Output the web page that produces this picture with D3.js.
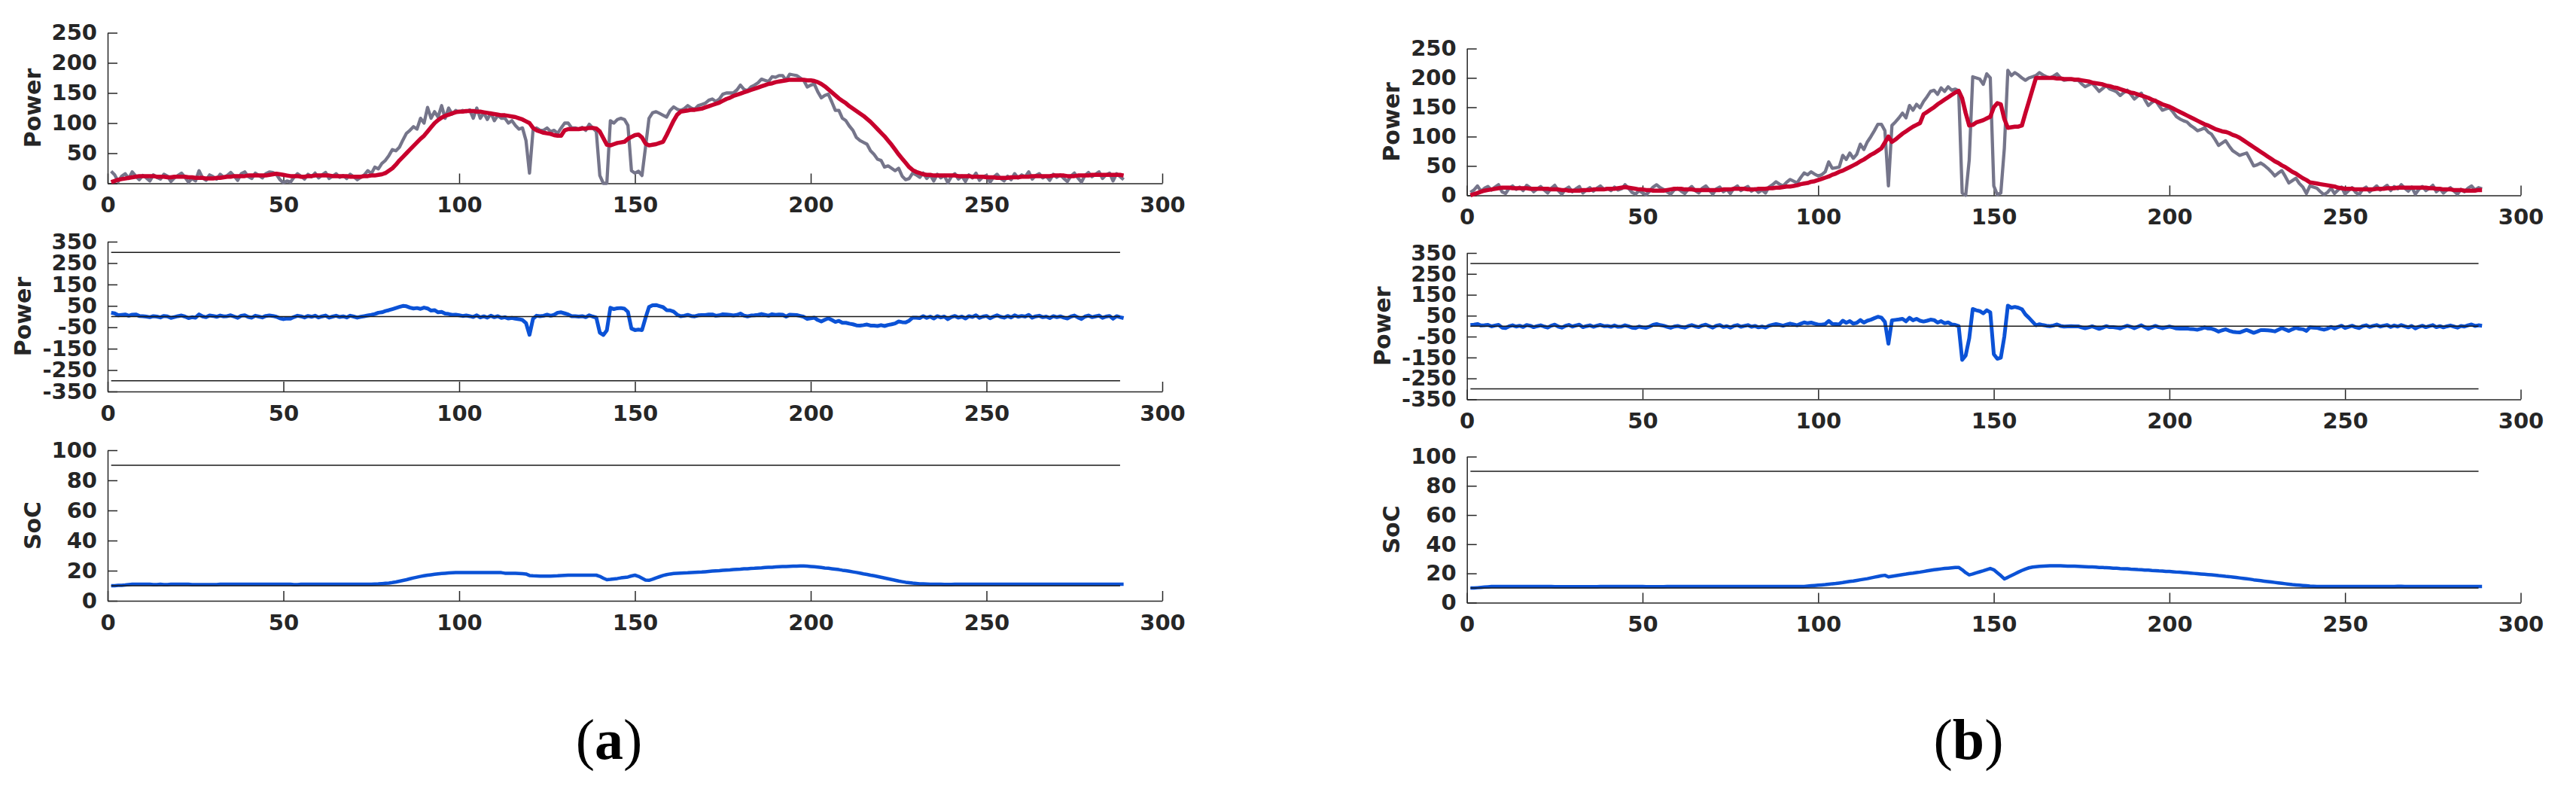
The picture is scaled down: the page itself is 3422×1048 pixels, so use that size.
<!DOCTYPE html>
<meta charset="utf-8" />
<script src="https://d3js.org/d3.v7.min.js"></script>
<style>
	body { margin: 0; background: #fff; }
</style>
<div id="chart"></div>
<script>
	// time steps (5 min slots)
	var steps = d3.range(1, 290);

	// tick labels
	var xTicks = [0, 50, 100, 150, 200, 250, 300];
	var powerTicks = [0, 50, 100, 150, 200, 250];
	var battTicks = [-350, -250, -150, -50, 50, 150, 250, 350];
	var socTicks = [0, 20, 40, 60, 80, 100];
	var battLimits = [-300, 0, 300];
	var socLimits = [10, 90];

	// (a) load power (grey)
	var loadA = [
		20, 14, 3, 12, 16, 8, 19, 12, 6, 13,
		9, 4, 14, 10, 7, 15, 12, 3, 9, 13,
		17, 10, 2, 8, 4, 21, 9, 5, 14, 11,
		7, 15, 10, 13, 18, 12, 5, 16, 19, 11,
		8, 17, 13, 9, 16, 19, 18, 15, 6, 1,
		4, 2, 10, 16, 12, 7, 15, 11, 17, 9,
		14, 18, 8, 12, 16, 10, 13, 8, 15, 11,
		6, 10, 14, 21, 16, 27, 24, 33, 38, 46,
		56, 54, 60, 72, 83, 88, 94, 90, 108, 100,
		126, 108, 119, 110, 129, 108, 125, 115, 121, 118,
		121, 119, 122, 108, 125, 108, 117, 106, 117, 104,
		113, 108, 108, 100, 104, 96, 90, 92, 71, 17,
		88, 92, 88, 88, 92, 86, 88, 83, 92, 100,
		100, 92, 92, 90, 93, 88, 98, 92, 86, 13,
		0, 0, 104, 100, 106, 108, 106, 96, 21, 17,
		20, 13, 60, 108, 117, 119, 116, 113, 110, 121,
		127, 123, 121, 124, 129, 125, 123, 129, 131, 133,
		138, 140, 136, 140, 148, 150, 150, 150, 155, 163,
		156, 154, 160, 163, 167, 173, 171, 169, 177, 176,
		179, 179, 171, 181, 180, 179, 175, 171, 160, 163,
		165, 152, 142, 146, 148, 135, 121, 121, 108, 104,
		95, 88, 76, 71, 68, 65, 54, 48, 40, 38,
		27, 29, 25, 21, 25, 12, 6, 8, 17, 14,
		10, 17, 8, 14, 4, 15, 9, 13, 1, 11,
		16, 7, 12, 3, 14, 9, 17, 5, 11, 13,
		2, 10, 15, 8, 4, 12, 6, 16, 9, 14,
		11, 19, 7, 13, 16, 9, 12, 5, 15, 10,
		14, 8, 3, 12, 17, 9, 2, 13, 18, 11,
		15, 19, 8, 14, 17, 4, 16, 11, 6
	];

	// (a) smoothed power (red)
	var smoothA = [
		2, 4, 6, 7, 8, 9, 10, 11, 12, 12,
		12, 12, 12, 11, 11, 11, 10, 10, 11, 11,
		11, 11, 10, 10, 9, 9, 9, 8, 8, 8,
		9, 9, 10, 11, 11, 12, 12, 12, 12, 13,
		13, 13, 13, 13, 13, 14, 15, 16, 15, 14,
		13, 12, 12, 12, 11, 11, 12, 12, 13, 13,
		13, 13, 13, 12, 12, 12, 12, 12, 11, 11,
		11, 11, 12, 12, 13, 13, 14, 15, 17, 21,
		25, 31, 38, 44, 50, 56, 62, 68, 74, 79,
		86, 93, 100, 105, 109, 112, 114, 116, 118, 119,
		119, 120, 120, 120, 119, 119, 118, 117, 116, 115,
		114, 113, 113, 112, 111, 110, 108, 106, 103, 100,
		92, 88, 86, 84, 83, 82, 80, 79, 79, 88,
		90, 90, 90, 90, 91, 91, 92, 92, 91, 86,
		75, 64, 63, 65, 67, 68, 69, 74, 77, 80,
		81, 76, 66, 63, 64, 65, 67, 69, 80, 92,
		104, 114, 119, 120, 121, 122, 122, 123, 124, 126,
		128, 130, 132, 134, 137, 140, 142, 145, 147, 149,
		151, 153, 155, 157, 159, 161, 163, 165, 166, 168,
		169, 170, 171, 172, 172, 172, 172, 172, 171, 171,
		170, 168, 165, 161, 156, 151, 146, 141, 137, 133,
		128, 124, 120, 116, 112, 107, 102, 96, 90, 84,
		78, 71, 64, 56, 48, 41, 34, 27, 22, 19,
		17, 15, 14, 14, 13, 13, 13, 13, 13, 13,
		13, 12, 12, 12, 12, 11, 11, 11, 11, 10,
		10, 10, 9, 9, 9, 9, 10, 10, 10, 11,
		11, 11, 12, 12, 12, 12, 12, 12, 13, 13,
		13, 13, 12, 12, 12, 13, 13, 13, 13, 14,
		14, 14, 14, 14, 14, 14, 14, 14, 13
	];

	// (a) battery power (blue)
	var battA = [
		18, 15, 6, 8, 10, 4, 9, 10, 3, 2,
		0, -3, 2, 0, -4, 3, 1, -6, -2, 2,
		5, 0, -7, -3, -5, 10, 1, -3, 5, 3,
		-1, 5, 1, 2, 6, 0, -6, 4, 6, -2,
		-5, 4, 0, -4, 3, 5, 3, -1, -8, -12,
		-9, -10, -2, 4, 1, -4, 3, -1, 4, -4,
		1, 5, -5, 0, 4, -2, 1, -4, 4, 0,
		-5, -1, 2, 5, 8, 12, 18, 20, 26, 30,
		35, 40, 45, 50, 48, 42, 38, 40, 36, 42,
		38, 28, 30, 20, 22, 14, 12, 8, 9, 6,
		3, 5, 2, -2, 6, -4, 1, -5, 4, -3,
		2, -6, -3, -9, -6, -10, -12, -16, -30, -85,
		-10, 4, 2, 4, 9, 4, 8, 18, 20, 15,
		10, 2, 2, 0, 2, -3, 6, 0, -5, -75,
		-86, -64, 41, 35, 39, 40, 37, 22, -56, -63,
		-61, -63, -6, 45, 53, 54, 49, 44, 30, 29,
		23, 9, 2, 4, 8, 3, 1, 6, 7, 7,
		10, 10, 4, 6, 11, 10, 8, 5, 8, 14,
		5, 1, 5, 6, 8, 12, 8, 4, 11, 8,
		10, 9, 0, 9, 8, 7, 3, -1, -11, -8,
		-5, -16, -23, -15, -8, -16, -25, -20, -29, -29,
		-33, -36, -41, -42, -40, -37, -42, -42, -44, -40,
		-44, -39, -36, -32, -23, -26, -27, -19, -5, -5,
		-7, 2, -6, 0, -9, 2, -4, 0, -12, -2,
		3, -5, 0, -9, 2, -2, 6, -6, 0, 3,
		-8, 0, 6, -1, -5, 3, -4, 6, -1, 3,
		0, 8, -5, 1, 4, -3, 0, -7, 2, -3,
		1, -5, -9, 0, 5, -4, -11, 0, 5, -3,
		1, 5, -6, 0, 3, -10, 2, -3, -7
	];

	// (a) state of charge
	var socA = [
		10, 10, 10.2, 10.3, 10.5, 10.8, 11, 11, 11, 11,
		11, 11, 10.8, 10.8, 11, 10.8, 10.8, 11, 11, 11,
		11, 11, 11, 10.8, 10.8, 10.8, 10.8, 10.8, 10.8, 10.8,
		10.8, 11, 11, 11, 11, 11, 11, 11, 11, 11,
		11, 11, 11, 11, 11, 11, 11, 11, 11, 11,
		11, 11, 10.8, 10.8, 11, 11, 11, 11, 11, 11,
		11, 11, 11, 11, 11, 11, 11, 11, 11, 11,
		11, 11, 11, 11, 11, 11.1, 11.2, 11.4, 11.6, 11.8,
		12.1, 12.5, 13, 13.5, 14, 14.6, 15.2, 15.7, 16.2, 16.6,
		17, 17.3, 17.6, 17.9, 18.1, 18.3, 18.5, 18.6, 18.7, 18.7,
		18.7, 18.7, 18.7, 18.7, 18.7, 18.7, 18.7, 18.7, 18.7, 18.7,
		18.7, 18.7, 18.3, 18.3, 18.2, 18.2, 18.1, 18, 17.8, 16.8,
		16.6, 16.5, 16.4, 16.4, 16.4, 16.4, 16.5, 16.6, 16.8, 16.9,
		17, 17, 17, 17, 17, 17, 17, 17, 17, 16.2,
		15, 14, 14.2, 14.5, 14.8, 15.2, 15.5, 15.8, 16.5, 17,
		16.2, 15, 13.8, 13.6, 14.3, 15.2, 16, 16.8, 17.4, 17.8,
		18.1, 18.3, 18.4, 18.5, 18.6, 18.8, 18.9, 19, 19.1, 19.3,
		19.5, 19.7, 19.9, 20, 20.2, 20.4, 20.5, 20.7, 20.9, 21,
		21.2, 21.3, 21.5, 21.6, 21.8, 21.9, 22.1, 22.2, 22.3, 22.5,
		22.6, 22.7, 22.8, 22.9, 23, 23, 23.1, 23.1, 23, 22.8,
		22.6, 22.4, 22.1, 21.8, 21.6, 21.3, 21, 20.7, 20.3, 20,
		19.6, 19.2, 18.8, 18.4, 17.9, 17.5, 17, 16.6, 16.1, 15.6,
		15.1, 14.6, 14.1, 13.6, 13.1, 12.7, 12.3, 12, 11.7, 11.5,
		11.3, 11.2, 11.1, 11, 11, 11, 11, 10.9, 10.9, 10.9,
		11, 11, 11, 11, 11, 11, 11, 11, 11, 11,
		11, 11, 11, 11, 11, 11, 11, 11, 11, 11,
		11, 11, 11, 11, 11, 11, 11, 11, 11, 11,
		11, 11, 11, 11, 11, 11, 11, 11, 11, 11,
		11, 11, 11, 11, 11, 11, 11, 11, 11
	];

	// (b) load power (grey)
	var loadB = [
		5, 9, 16, 7, 12, 15, 9, 14, 18, 6,
		3, 12, 16, 10, 14, 8, 17, 13, 6, 11,
		15, 9, 4, 12, 17, 8, 2, 10, 14, 6,
		11, 15, 4, 9, 13, 7, 12, 16, 10, 12,
		8, 14, 9, 11, 18, 12, 5, 2, 8, 4,
		1, 7, 14, 18, 13, 10, 6, 2, 9, 12,
		7, 3, 10, 15, 8, 4, 12, 16, 9, 2,
		11, 14, 6, 10, 3, 12, 16, 8, 12, 15,
		7, 11, 5, 9, 4, 14, 18, 23, 19, 16,
		22, 27, 24, 21, 30, 38, 35, 40, 36, 33,
		35, 40, 57, 46, 47, 48, 68, 61, 72, 63,
		70, 87, 78, 91, 100, 110, 121, 121, 110, 16,
		119, 125, 132, 140, 132, 153, 145, 155, 149, 160,
		168, 177, 179, 172, 183, 177, 185, 179, 181, 178,
		4, 0, 60, 202, 200, 198, 189, 207, 200, 16,
		1, 4, 80, 213, 204, 209, 205, 200, 196, 200,
		202, 204, 209, 205, 202, 200, 203, 207, 200, 196,
		197, 198, 196, 196, 190, 185, 188, 191, 184, 177,
		182, 187, 181, 179, 176, 170, 175, 179, 172, 164,
		169, 174, 163, 153, 158, 162, 153, 145, 147, 149,
		142, 134, 130, 127, 125, 119, 115, 110, 112, 115,
		108, 104, 95, 85, 89, 93, 84, 76, 72, 68,
		70, 72, 61, 50, 52, 55, 51, 46, 40, 33,
		38, 42, 32, 21, 25, 29, 20, 14, 3, 16,
		14, 12, 6, 1, 5, 12, 3, 9, 14, 2,
		8, 13, 5, 1, 10, 14, 6, 11, 16, 9,
		13, 17, 8, 15, 11, 18, 12, 7, 14, 2,
		10, 15, 8, 12, 17, 6, 11, 4, 9, 13,
		7, 2, 10, 6, 12, 16, 9, 13, 11
	];

	// (b) smoothed power (red)
	var smoothB = [
		0, 2, 4, 6, 8, 9, 10, 11, 12, 13,
		13, 13, 12, 12, 12, 12, 12, 11, 11, 11,
		11, 11, 11, 10, 10, 10, 9, 9, 8, 8,
		8, 8, 9, 9, 9, 10, 10, 10, 10, 11,
		11, 11, 12, 13, 14, 13, 12, 11, 10, 10,
		9, 9, 8, 8, 8, 8, 9, 10, 11, 11,
		11, 10, 10, 10, 9, 9, 9, 9, 9, 9,
		9, 9, 10, 10, 10, 11, 11, 11, 11, 10,
		10, 10, 11, 11, 11, 12, 12, 13, 13, 14,
		15, 15, 16, 17, 19, 20, 21, 23, 24, 26,
		28, 30, 32, 35, 37, 40, 42, 45, 48, 51,
		54, 58, 61, 65, 69, 72, 76, 80, 90, 100,
		91, 95, 100, 105, 109, 113, 117, 120, 123, 138,
		142, 146, 150, 155, 159, 163, 167, 171, 175, 178,
		165, 140, 119, 120, 124, 126, 128, 131, 134, 150,
		157, 155, 130, 115, 116, 117, 117, 119, 140, 160,
		180, 200, 200, 200, 200, 200, 200, 199, 199, 198,
		198, 198, 197, 197, 196, 195, 194, 192, 191, 190,
		189, 187, 186, 184, 183, 181, 179, 177, 175, 174,
		172, 170, 168, 166, 163, 161, 158, 155, 153, 151,
		148, 145, 142, 139, 136, 133, 130, 127, 124, 121,
		119, 116, 113, 111, 109, 108, 106, 103, 101, 98,
		94, 90, 86, 82, 78, 74, 70, 66, 62, 58,
		55, 51, 48, 44, 40, 37, 33, 29, 26, 22,
		21, 20, 19, 18, 17, 16, 15, 13, 12, 11,
		11, 11, 10, 10, 10, 10, 10, 10, 11, 11,
		11, 12, 12, 12, 13, 13, 13, 13, 13, 13,
		13, 13, 13, 12, 12, 11, 11, 10, 10, 10,
		9, 9, 9, 8, 8, 8, 8, 9, 9
	];

	// (b) battery power (blue)
	var battB = [
		5, 7, 10, 3, 4, 6, -1, 3, 6, -7,
		-9, -1, 4, -2, 2, -4, 5, 2, -5, 0,
		4, -2, -7, 2, 7, -2, -7, 1, 6, -2,
		3, 7, -5, 0, 4, -3, 2, 6, 0, 1,
		-3, 3, -3, -2, 4, -1, -7, -9, -2, -6,
		-8, -2, 6, 10, 5, 2, -3, -8, -2, 1,
		-4, -7, 0, 5, -1, -5, 3, 7, 0, -7,
		2, 5, -4, 0, -7, 1, 5, -3, 1, 5,
		-3, 1, -6, -2, -7, 2, 6, 10, 6, 2,
		7, 12, 8, 4, 11, 18, 14, 17, 12, 7,
		7, 10, 25, 11, 10, 8, 26, 16, 24, 12,
		16, 29, 17, 26, 31, 38, 45, 41, 20, -84,
		28, 30, 32, 35, 23, 40, 28, 35, 26, 22,
		26, 31, 29, 17, 24, 14, 18, 8, 6, 0,
		-161, -140, -59, 82, 76, 72, 61, 76, 66, -134,
		-156, -151, -50, 98, 88, 92, 88, 81, 56, 40,
		22, 4, 9, 5, 2, 0, 3, 8, 1, -2,
		-1, 0, -1, -1, -6, -10, -6, -1, -7, -13,
		-7, 0, -5, -5, -7, -11, -4, 2, -3, -10,
		-3, 4, -5, -13, -5, 1, -5, -10, -6, -2,
		-6, -11, -12, -12, -11, -14, -15, -17, -12, -6,
		-11, -12, -18, -26, -20, -15, -22, -27, -29, -30,
		-24, -18, -25, -32, -26, -19, -19, -20, -22, -25,
		-17, -9, -16, -23, -15, -8, -13, -15, -23, -6,
		-7, -8, -13, -17, -12, -4, -12, -4, 2, -9,
		-3, 2, -5, -9, 0, 4, -4, 1, 5, -2,
		2, 5, -4, 3, -2, 5, -1, -6, 1, -11,
		-3, 2, -5, 0, 5, -5, 0, -6, -1, 3,
		-2, -7, 1, -2, 4, 8, 1, 4, 2
	];

	// (b) state of charge
	var socB = [
		10, 10, 10.2, 10.4, 10.6, 10.8, 11, 11, 11.1, 11.1,
		11.1, 11.1, 11.1, 11, 11, 11, 11, 11.1, 11.1, 11.1,
		11, 11, 11, 11, 10.9, 10.9, 10.9, 10.9, 10.9, 10.9,
		10.9, 10.9, 10.9, 10.9, 10.9, 10.9, 10.9, 11, 11, 11,
		11, 11, 11, 11, 11, 11.1, 11.1, 11, 11, 11,
		10.9, 10.9, 10.9, 10.9, 10.9, 10.9, 11, 11, 11, 11,
		11, 11, 11, 11, 11, 11, 11, 11, 11, 11,
		11, 11, 11, 11, 11, 11, 11, 11, 11, 11,
		11, 11, 11, 11, 11, 11, 11, 11, 11, 11,
		11, 11, 11, 11, 11, 11.1, 11.3, 11.5, 11.7, 11.9,
		12.1, 12.3, 12.6, 12.9, 13.1, 13.4, 13.7, 14.1, 14.5, 14.8,
		15.2, 15.6, 16, 16.4, 16.9, 17.4, 17.9, 18.4, 18.7, 17.6,
		18, 18.4, 18.8, 19.2, 19.5, 19.9, 20.2, 20.6, 20.9, 21.3,
		21.7, 22.1, 22.5, 22.8, 23.1, 23.4, 23.6, 23.8, 24, 24.1,
		22.5, 20.5, 19, 19.6, 20.4, 21.1, 21.8, 22.6, 23.4, 22.5,
		20.5, 18.5, 16.2, 17.3, 18.5, 19.7, 20.9, 22, 23, 23.8,
		24.3, 24.6, 24.8, 25, 25.1, 25.2, 25.2, 25.2, 25.2, 25.1,
		25, 25, 24.9, 24.8, 24.7, 24.6, 24.5, 24.4, 24.3, 24.1,
		24, 23.9, 23.8, 23.6, 23.5, 23.3, 23.2, 23.1, 22.9, 22.8,
		22.6, 22.5, 22.3, 22.2, 22, 21.9, 21.7, 21.6, 21.4, 21.3,
		21.1, 20.9, 20.8, 20.6, 20.4, 20.2, 20, 19.8, 19.6, 19.4,
		19.2, 19, 18.8, 18.5, 18.3, 18, 17.8, 17.5, 17.2, 16.9,
		16.6, 16.3, 16, 15.6, 15.3, 15, 14.7, 14.4, 14.1, 13.8,
		13.5, 13.2, 12.9, 12.6, 12.3, 12.1, 11.9, 11.7, 11.5, 11.3,
		11.2, 11.1, 11, 11, 11, 11, 11, 11, 11, 11,
		11, 11, 11, 11, 11, 11, 11, 11, 11, 11,
		11, 11, 11.1, 11.1, 11.2, 11.2, 11.1, 11.1, 11, 11,
		11, 11, 11, 11, 11, 11, 11, 11, 11, 11,
		11, 11, 11, 11, 11, 11, 11, 11, 11
	];

	var axisColor = "#262626";
	var greyColor = "#75758a";
	var redColor = "#c8002d";
	var blueColor = "#0b52d6";

	var svg = d3
		.select("#chart")
		.append("svg")
		.attr("width", 3422)
		.attr("height", 1048)
		.style("background", "#fff");

	// panel frames (pixel boxes of each subplot)
	var panels = [
		{
			name: "a", left: 143, right: 1544, capX: 809,
			rows: [[43.5, 243.5], [321, 520], [598, 798]],
			load: loadA, smooth: smoothA, batt: battA, soc: socA
		},
		{
			name: "b", left: 1948.7, right: 3348.5, capX: 2615,
			rows: [[64.5, 259.4], [336, 530.4], [606.5, 800.4]],
			load: loadB, smooth: smoothB, batt: battB, soc: socB
		}
	];

	function styleAxis(g) {
		g.attr("font-family", "DejaVu Sans")
			.attr("font-weight", "bold")
			.attr("font-size", 29)
			.attr("color", axisColor);
		g.selectAll("path, line").attr("stroke-width", 1.5);
	}

	function drawRow(p, row, domain, ticks, label, labelOffset) {
		var x = d3.scaleLinear().domain([0, 300]).range([p.left, p.right]);
		var y = d3.scaleLinear().domain(domain).range([row[1], row[0]]);
		var g = svg.append("g");

		g.append("g")
			.attr("transform", "translate(" + p.left + ",0)")
			.call(d3.axisLeft(y).tickValues(ticks).tickSizeInner(-13).tickSizeOuter(0)
				.tickPadding(14).tickFormat(d => String(d)))
			.call(styleAxis);

		g.append("g")
			.attr("transform", "translate(0," + row[1] + ")")
			.call(d3.axisBottom(x).tickValues(xTicks).tickSizeInner(-13).tickSizeOuter(0)
				.tickPadding(18).tickFormat(d => String(d)))
			.call(styleAxis);

		// y label
		g.append("text")
			.attr("transform", "translate(" + (p.left + labelOffset) + "," + (row[0] + row[1]) / 2 + ") rotate(-90)")
			.attr("text-anchor", "middle")
			.attr("font-family", "DejaVu Sans")
			.attr("font-weight", "bold")
			.attr("font-size", 30)
			.attr("fill", axisColor)
			.text(label);

		return { g: g, x: x, y: y };
	}

	function addLine(r, values, color, width) {
		var line = d3.line()
			.x((d, i) => r.x(steps[i]))
			.y(d => r.y(d));
		r.g.append("path")
			.datum(values)
			.attr("fill", "none")
			.attr("stroke", color)
			.attr("stroke-width", width)
			.attr("stroke-linejoin", "round")
			.attr("d", line);
	}

	function addLimits(r, levels) {
		r.g.selectAll(null)
			.data(levels)
			.join("line")
			.attr("x1", r.x(1))
			.attr("x2", r.x(288))
			.attr("y1", d => r.y(d))
			.attr("y2", d => r.y(d))
			.attr("stroke", "#1a1a1a")
			.attr("stroke-width", 1.5);
	}

	panels.forEach(function (p) {
		// load vs smoothed power
		var top = drawRow(p, p.rows[0], [0, 250], powerTicks, "Power", -89.4);
		addLine(top, p.load, greyColor, 4.3);
		addLine(top, p.smooth, redColor, 5.5);

		// battery power
		var mid = drawRow(p, p.rows[1], [-350, 350], battTicks, "Power", -102);
		addLine(mid, p.batt, blueColor, 5);
		addLimits(mid, battLimits);

		// state of charge
		var bot = drawRow(p, p.rows[2], [0, 100], socTicks, "SoC", -89.4);
		addLine(bot, p.soc, blueColor, 4.5);
		addLimits(bot, socLimits);

		// caption
		var cap = svg.append("text")
			.attr("x", p.capX)
			.attr("y", 1008)
			.attr("text-anchor", "middle")
			.attr("font-family", "Liberation Serif")
			.attr("font-size", 76)
			.attr("fill", "#000");
		cap.append("tspan").text("(");
		cap.append("tspan").attr("font-weight", "bold").text(p.name);
		cap.append("tspan").text(")");
	});
</script>
